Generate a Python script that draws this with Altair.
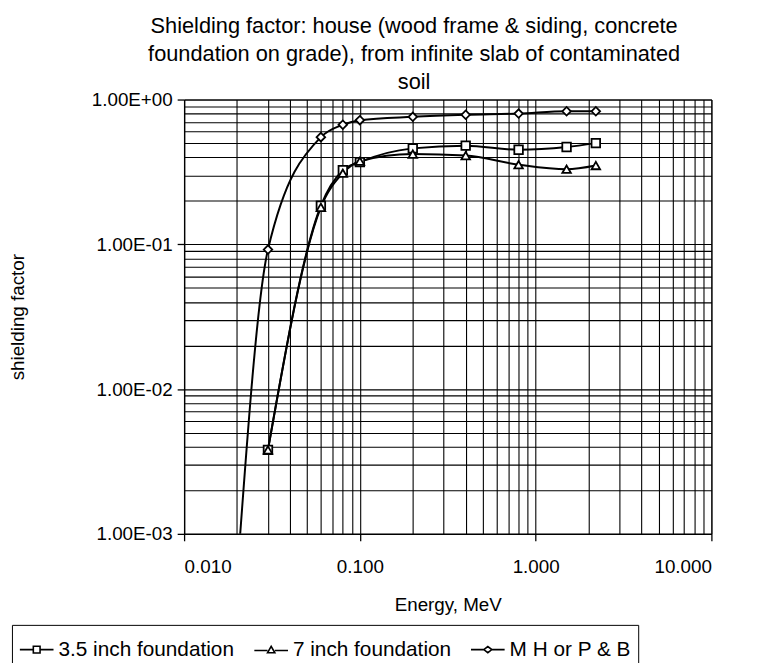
import altair as alt
import pandas as pd

# ---- data ----
series_names = ["3.5 inch foundation", "7 inch foundation", "M H or P & B"]

e_35 = [0.03, 0.06, 0.08, 0.1, 0.2, 0.4, 0.8, 1.5, 2.2]
v_35 = [0.0038, 0.185, 0.325, 0.37, 0.46, 0.48, 0.45, 0.47, 0.50]

e_7 = [0.03, 0.06, 0.08, 0.1, 0.2, 0.4, 0.8, 1.5, 2.2]
v_7 = [0.0038, 0.18, 0.31, 0.375, 0.42, 0.41, 0.355, 0.33, 0.35]

e_mh = [0.02, 0.03, 0.06, 0.08, 0.1, 0.2, 0.4, 0.8, 1.5, 2.2]
v_mh = [0.0005, 0.092, 0.55, 0.67, 0.72, 0.76, 0.785, 0.80, 0.83, 0.83]

x_ticks = [m * 10.0 ** k for k in (-2, -1, 0) for m in range(1, 10)] + [10.0]
y_ticks = [m * 10.0 ** k for k in (-3, -2, -1) for m in range(1, 10)] + [1.0]

title_lines = [
    "Shielding factor: house (wood frame & siding, concrete",
    "foundation on grade), from infinite slab of contaminated",
    "soil",
]

rows = []
for name, es, vs in ((series_names[0], e_35, v_35),
                     (series_names[1], e_7, v_7),
                     (series_names[2], e_mh, v_mh)):
    for e, v in zip(es, vs):
        rows.append({"series": name, "E": e, "v": v})
df = pd.DataFrame(rows)

FONT = "Liberation Sans"
major = "abs(log(datum.value)/LN10 - round(log(datum.value)/LN10)) < 0.001"

x_enc = alt.X(
    "E:Q",
    scale=alt.Scale(type="log", domain=[0.01, 10], nice=False),
    axis=alt.Axis(
        title="Energy, MeV",
        values=x_ticks,
        labelExpr="(" + major + ") ? format(datum.value, '.3f') : ''",
        tickOpacity={"condition": {"test": major, "value": 1}, "value": 0},
        tickSize=7,
        labelPadding=17,
        titlePadding=19,
        labelFontSize=19,
        titleFontSize=19,
    ),
)
y_enc = alt.Y(
    "v:Q",
    scale=alt.Scale(type="log", domain=[0.001, 1], nice=False),
    axis=alt.Axis(
        title="shielding factor",
        values=y_ticks,
        labelExpr="(" + major + ") ? ((round(log(datum.value)/LN10) >= 0 ? '1.00E+0' : '1.00E-0') + abs(round(log(datum.value)/LN10))) : ''",
        tickOpacity={"condition": {"test": major, "value": 1}, "value": 0},
        tickSize=7,
        labelPadding=5,
        titlePadding=64,
        labelFontSize=19,
        titleFontSize=19,
    ),
)

lines = alt.Chart(df).mark_line(
    interpolate="monotone", color="black", strokeWidth=2, clip=True
).encode(x=x_enc, y=y_enc, detail="series:N")

points = alt.Chart(df).mark_point(
    filled=True, fill="white", stroke="black", strokeWidth=1.8, size=75, opacity=1, clip=True
).encode(
    x=x_enc,
    y=y_enc,
    shape=alt.Shape(
        "series:N",
        scale=alt.Scale(domain=series_names, range=["square", "triangle-up", "diamond"]),
        legend=None,
    ),
)

legend_paths = [
    "M-1,0L-0.2,0M0.2,0L1,0M-0.2,-0.2L0.2,-0.2L0.2,0.2L-0.2,0.2Z",
    "M-1,0.05L-0.22,0.05M0.22,0.05L1,0.05M-0.22,0.19L0,-0.2L0.22,0.19Z",
    "M-1,0L-0.24,0M0.24,0L1,0M-0.24,0L0,-0.18L0.24,0L0,0.18Z",
]

legend_layer = alt.Chart(df).mark_point(
    opacity=0, color="black", clip=True
).encode(
    x=x_enc,
    y=y_enc,
    shape=alt.Shape(
        "series:N",
        scale=alt.Scale(domain=series_names, range=legend_paths),
        legend=alt.Legend(
            title=None,
            orient="none",
            direction="horizontal",
            legendX=-174,
            legendY=531,
            symbolSize=1156,
            symbolStrokeColor="black",
            symbolFillColor="white",
            symbolStrokeWidth=1.6,
            symbolOpacity=1,
            labelFontSize=21,
            labelFont=FONT,
            labelColor="black",
            labelLimit=400,
            labelOffset=4,
            columnPadding=16,
            padding=7,
            strokeColor="black",
            fillColor="white",
        ),
    ),
)

chart = (
    alt.layer(legend_layer, lines, points)
    .resolve_scale(shape="independent")
    .properties(
        width=533,
        height=439,
        autosize=alt.AutoSizeParams(type="none"),
        padding={"left": 178, "top": 89, "right": 38, "bottom": 127},
        title=alt.TitleParams(
            text=title_lines,
            fontSize=22,
            font=FONT,
            fontWeight="normal",
            color="black",
            lineHeight=28,
            anchor="middle",
            dx=-34,
            offset=-3,
        ),
        background="white",
    )
    .configure_axis(
        labelFont=FONT,
        titleFont=FONT,
        labelColor="black",
        titleColor="black",
        titleFontWeight="normal",
        gridColor="black",
        gridOpacity=1,
        gridWidth=1.1,
        domainColor="black",
        domainWidth=1.3,
        tickColor="black",
        tickWidth=1.3,
    )
    .configure_view(stroke="black", strokeWidth=1)
)

chart.save("out.html", embed_options={"renderer": "svg", "actions": False})
